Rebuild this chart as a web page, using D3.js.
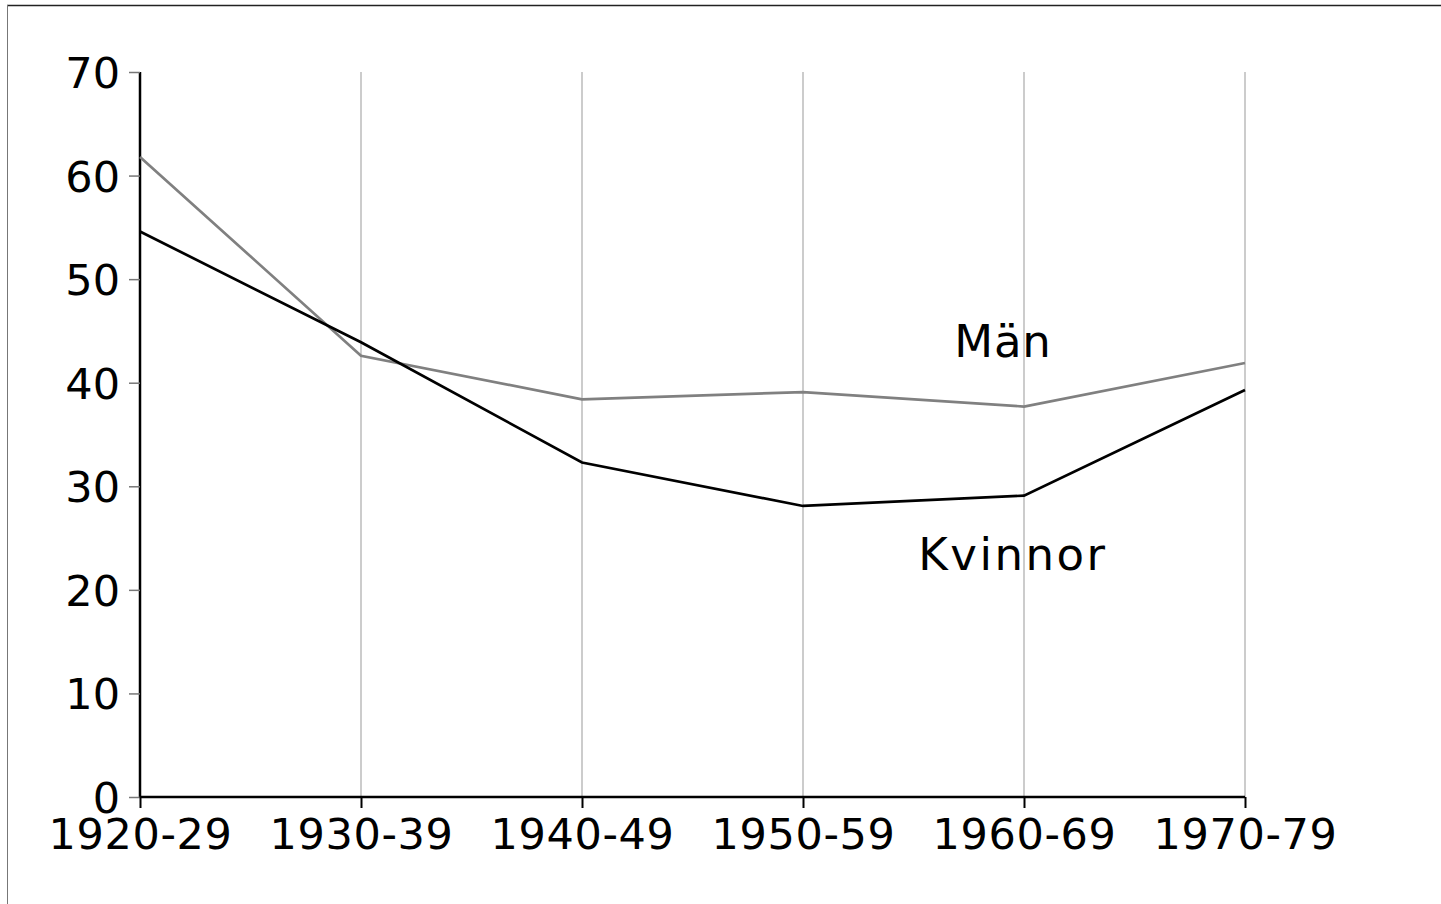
<!DOCTYPE html>
<html>
<head>
<meta charset="utf-8">
<script src="https://cdn.jsdelivr.net/npm/d3@7"></script>
<style>
  body { margin: 0; background: #fff; }
  svg { display: block; }
  text { font-family: "DejaVu Sans", sans-serif; }
</style>
</head>
<body>
<svg width="1441" height="904"></svg>
<script>
// data
var periods = ["1920-29", "1930-39", "1940-49", "1950-59", "1960-69", "1970-79"];
var man = [61.8, 42.6, 38.4, 39.1, 37.7, 41.9];
var kvinnor = [54.6, 43.9, 32.3, 28.1, 29.1, 39.3];
var yTicks = [0, 10, 20, 30, 40, 50, 60, 70];
// series labels: [text, position between periods (index), value]
var labels = [["Män", 3.905, 42.5], ["Kvinnor", 3.95, 21.9]];

var width = 1441, height = 904;
var mLeft = 140, mRight = 1245, mTop = 72, mBottom = 797;

var svg = d3.select("svg");

// frame (only top and left edges show)
svg.append("line").attr("x1", 7).attr("x2", width).attr("y1", 5.5).attr("y2", 5.5)
    .attr("stroke", "#222").attr("stroke-width", 1.5);
svg.append("line").attr("x1", 7.5).attr("x2", 7.5).attr("y1", 5).attr("y2", height)
    .attr("stroke", "#777").attr("stroke-width", 1);

var x = d3.scalePoint().domain(periods).range([mLeft, mRight]);
var y = d3.scaleLinear().domain([0, 70]).range([mBottom, mTop]);
var xi = d3.scaleLinear().domain([0, periods.length - 1]).range([mLeft, mRight]);

// vertical grid
svg.append("g")
    .selectAll("line")
    .data(periods.slice(1))
    .enter().append("line")
    .attr("x1", function(d) { return x(d); })
    .attr("x2", function(d) { return x(d); })
    .attr("y1", mTop)
    .attr("y2", mBottom)
    .attr("stroke", "#999")
    .attr("stroke-width", 1);

// y axis
var yAxis = svg.append("g")
    .attr("transform", "translate(" + mLeft + ",0)")
    .call(d3.axisLeft(y).tickValues(yTicks).tickSize(12).tickPadding(8));
yAxis.select(".domain").attr("stroke", "#000").attr("stroke-width", 2.5)
    .attr("d", "M0," + (mBottom + 1) + "V" + mTop);
yAxis.selectAll(".tick line").attr("stroke", "#777").attr("stroke-width", 1.5).attr("x2", -11);
yAxis.selectAll(".tick text")
    .attr("font-family", "DejaVu Sans, sans-serif")
    .attr("font-size", 43)
    .attr("fill", "#000")
    .attr("dy", "0.36em");

// x axis
var xAxis = svg.append("g")
    .attr("transform", "translate(0," + mBottom + ")")
    .call(d3.axisBottom(x).tickSize(11).tickPadding(10));
xAxis.select(".domain").attr("stroke", "#000").attr("stroke-width", 2.5)
    .attr("d", "M" + mLeft + ",0H" + mRight);
xAxis.selectAll(".tick line").attr("stroke", "#000").attr("stroke-width", 2);
xAxis.selectAll(".tick text")
    .attr("font-family", "DejaVu Sans, sans-serif")
    .attr("font-size", 43)
    .attr("letter-spacing", 0.6)
    .attr("fill", "#000");

// lines
var line = d3.line()
    .x(function(d, i) { return x(periods[i]); })
    .y(function(d) { return y(d); });

svg.append("path").datum(man)
    .attr("d", line)
    .attr("fill", "none")
    .attr("stroke", "#808080")
    .attr("stroke-width", 2.7);

svg.append("path").datum(kvinnor)
    .attr("d", line)
    .attr("fill", "none")
    .attr("stroke", "#000")
    .attr("stroke-width", 2.7);

// series labels
svg.append("g")
    .selectAll("text")
    .data(labels)
    .enter().append("text")
    .attr("x", function(d) { return xi(d[1]); })
    .attr("y", function(d) { return y(d[2]); })
    .attr("text-anchor", "middle")
    .attr("font-size", 45)
    .attr("letter-spacing", function(d) { return d[0] === "Kvinnor" ? 2.5 : 0.8; })
    .text(function(d) { return d[0]; });
</script>
</body>
</html>
